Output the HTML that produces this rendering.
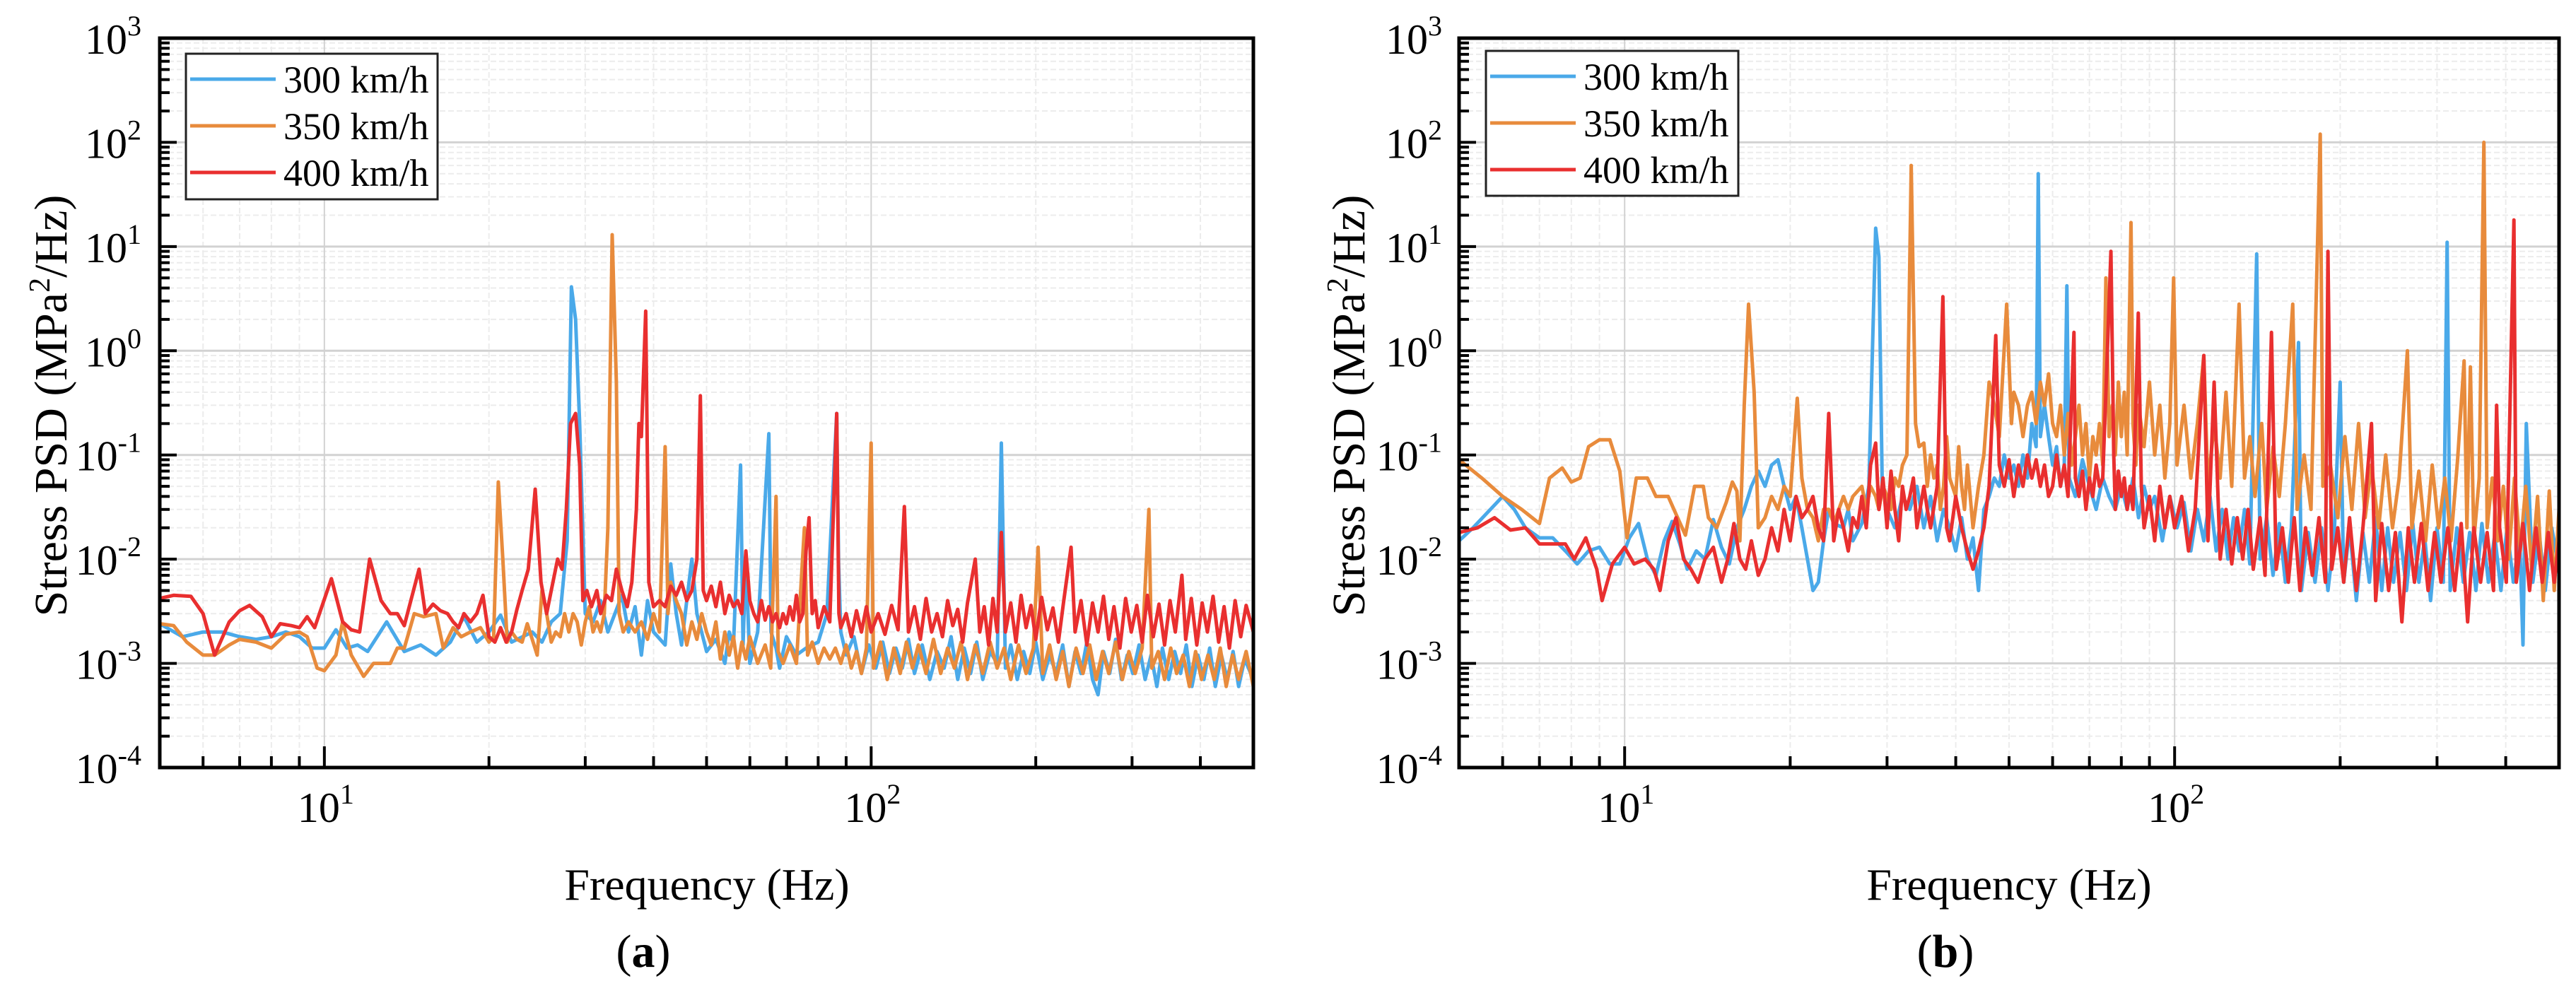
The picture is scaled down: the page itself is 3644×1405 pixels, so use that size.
<!DOCTYPE html>
<html><head><meta charset="utf-8"><style>
html,body{margin:0;padding:0;background:#fff;width:3644px;height:1405px;overflow:hidden}
svg text{font-family:"Liberation Serif",serif;fill:#000}
</style></head><body>
<svg id="fig" xmlns="http://www.w3.org/2000/svg" width="3644" height="1405" viewBox="0 0 3644 1405"></svg>
<script>
// ---- data: [frequency Hz, PSD MPa^2/Hz] ----
const a300 = [[5,2.4e-3],[5.5,1.8e-3],[6,2.0e-3],[6.5,2.0e-3],[7,1.8e-3],[7.5,1.7e-3],[8,1.8e-3],[8.5,2.0e-3],[9,1.8e-3],[9.5,1.4e-3],[10,1.4e-3],[10.5,2.1e-3],[11,1.4e-3],[11.5,1.5e-3],[12,1.3e-3],[13,2.5e-3],[14,1.3e-3],[15,1.5e-3],[16,1.2e-3],[17,1.6e-3],[18,2.8e-3],[19,1.6e-3],[20,2e-3],[21,2.9e-3],[22,1.6e-3],[24,2e-3],[25,1.6e-3],[26,2.5e-3],[27,3e-3],[27.8,1.5e-2],[28.3,4.1],[28.8,2.0],[29.3,0.2],[30,3e-3],[31,2.5e-3],[32,4e-3],[33,2e-3],[34,3e-3],[35,4.5e-3],[36,2e-3],[37,3.5e-3],[38,1.2e-3],[39,4e-3],[40,2e-3],[42,1.5e-3],[43,9e-3],[44,3e-3],[45,1.5e-3],[46,4e-3],[47,1e-2],[48,3e-3],[50,1.3e-3],[52,1.7e-3],[54,1e-3],[55,2e-3],[56,1.5e-3],[57.7,0.08],[58.3,1.5e-3],[59,1e-2],[60,1e-3],[62,2e-3],[65,0.16],[65.6,2e-3],[67,1.4e-3],[68,9e-4],[70,1.8e-3],[73,1.2e-3],[76,1.4e-3],[80,1.6e-3],[83,3e-3],[86.5,0.25],[87.2,9e-3],[88,2e-3],[90,1.2e-3],[93,1.8e-3],[96,8e-4],[99,1.5e-3],[102,9e-4],[105,1.6e-3],[108,8e-4],[111,1.4e-3],[114,9e-4],[117,1.7e-3],[120,8e-4],[124,1.5e-3],[128,7e-4],[132,1.3e-3],[136,9e-4],[140,1.8e-3],[144,7e-4],[148,1.4e-3],[152,8e-4],[156,1.6e-3],[160,7e-4],[165,1.3e-3],[170,1e-3],[173,0.13],[176,9e-4],[180,1.5e-3],[185,7e-4],[190,1.3e-3],[195,8e-4],[200,1.6e-3],[206,7e-4],[212,1.2e-3],[218,8e-4],[224,1.5e-3],[230,6e-4],[236,1.3e-3],[242,8e-4],[248,1.6e-3],[254,7e-4],[260,5e-4],[266,1.3e-3],[273,8e-4],[280,1.7e-3],[287,7e-4],[294,1.2e-3],[301,8e-4],[309,1.5e-3],[317,7e-4],[325,1.2e-3],[333,6e-4],[341,1.4e-3],[350,7e-4],[359,1.3e-3],[368,8e-4],[377,1.5e-3],[386,6e-4],[396,1.2e-3],[406,7e-4],[416,1.4e-3],[426,6e-4],[437,1.2e-3],[448,7e-4],[459,1.3e-3],[470,6e-4],[482,1.1e-3],[500,7e-4]];
const a350 = [[5,2.4e-3],[5.3,2.3e-3],[5.6,1.6e-3],[6,1.2e-3],[6.3,1.2e-3],[6.7,1.5e-3],[7,1.7e-3],[7.5,1.6e-3],[8,1.4e-3],[8.5,1.9e-3],[9,2e-3],[9.3,1.8e-3],[9.7,9e-4],[10,8.5e-4],[10.5,1.2e-3],[10.8,2.5e-3],[11.2,1.2e-3],[11.8,7.5e-4],[12.3,1e-3],[12.8,1e-3],[13.2,1e-3],[13.6,1.4e-3],[14,1.4e-3],[14.6,3e-3],[15.2,2.8e-3],[16,3e-3],[16.5,1.4e-3],[17.2,2.2e-3],[17.8,1.8e-3],[18.5,2e-3],[19.3,2.2e-3],[20,1.6e-3],[20.4,1.8e-3],[20.8,0.055],[21.2,1e-2],[21.6,1.6e-3],[22,2e-3],[22.5,1.7e-3],[23,1.6e-3],[23.5,2.4e-3],[24,1.7e-3],[24.5,1.2e-3],[25,5e-3],[25.5,3e-3],[26,1.6e-3],[26.5,2e-3],[27,1.8e-3],[27.5,3e-3],[28,2e-3],[28.5,3e-3],[29,2.5e-3],[29.5,1.5e-3],[30,2.5e-3],[30.5,3.5e-3],[31,2e-3],[31.5,2.5e-3],[32,2e-3],[32.5,3e-3],[33,0.02],[33.6,13],[34.2,0.5],[34.6,3e-3],[35.2,2e-3],[36,2.5e-3],[37,2e-3],[38,2.5e-3],[39,1.7e-3],[40,3e-3],[41,2e-3],[42,0.12],[42.5,3e-3],[43,6e-3],[44,4e-3],[45,3e-3],[46,1.5e-3],[47,2.5e-3],[48,1.7e-3],[49,3e-3],[50,2e-3],[51,1.5e-3],[52,2.5e-3],[53,1.1e-3],[54,2e-3],[55,1.2e-3],[56,1.8e-3],[57,9e-4],[58,1.6e-3],[59,1.1e-3],[60,1.8e-3],[62,1e-3],[64,1.5e-3],[65.5,9e-4],[67,0.04],[67.6,1.3e-3],[69,1e-3],[71,1.5e-3],[73,1e-3],[75.5,0.02],[76.5,1.2e-3],[78,1.6e-3],[80,1e-3],[82,1.4e-3],[84,1.1e-3],[86,1.4e-3],[88,1e-3],[90,1.5e-3],[92,9e-4],[94,1.3e-3],[96,8e-4],[98,1.4e-3],[100,0.13],[101,9e-4],[104,1.6e-3],[107,7e-4],[110,1.4e-3],[113,8e-4],[116,1.6e-3],[119,9e-4],[122,1.5e-3],[126,8e-4],[130,1.7e-3],[134,8e-4],[138,1.4e-3],[142,9e-4],[146,1.6e-3],[150,7e-4],[155,1.5e-3],[160,8e-4],[165,1.6e-3],[170,9e-4],[175,1.4e-3],[180,7e-4],[186,1.5e-3],[192,8e-4],[198,1.4e-3],[202,0.013],[206,8e-4],[212,1.5e-3],[218,7e-4],[224,1.3e-3],[230,6e-4],[237,1.4e-3],[244,8e-4],[251,1.5e-3],[258,7e-4],[265,1.3e-3],[272,8e-4],[280,1.6e-3],[288,7e-4],[296,1.3e-3],[304,8e-4],[313,1.4e-3],[322,0.03],[326,9e-4],[335,1.3e-3],[344,7e-4],[353,1.4e-3],[362,8e-4],[372,1.2e-3],[382,6e-4],[392,1.3e-3],[402,7e-4],[413,1.2e-3],[424,7e-4],[435,1.4e-3],[446,6e-4],[458,1.2e-3],[470,7e-4],[485,1.3e-3],[500,6e-4]];
const a400 = [[5,4.2e-3],[5.3,4.5e-3],[5.7,4.4e-3],[6.0,3e-3],[6.3,1.2e-3],[6.7,2.5e-3],[7.0,3.2e-3],[7.3,3.6e-3],[7.7,2.8e-3],[8.0,1.8e-3],[8.3,2.4e-3],[8.7,2.3e-3],[9.0,2.2e-3],[9.3,2.8e-3],[9.6,2.2e-3],[10.3,6.5e-3],[10.8,2.5e-3],[11.2,2.1e-3],[11.6,2.0e-3],[12.1,1e-2],[12.7,4e-3],[13.2,3e-3],[13.6,3e-3],[14.0,2.3e-3],[14.9,8e-3],[15.3,3e-3],[15.8,3.7e-3],[16.3,3.2e-3],[16.8,3.0e-3],[17.2,2.5e-3],[17.6,2.2e-3],[18,3e-3],[18.5,2.5e-3],[19,3e-3],[19.5,4.5e-3],[20,1.8e-3],[20.5,1.6e-3],[21,2.2e-3],[21.5,1.6e-3],[22,2e-3],[22.5,3.3e-3],[23,5e-3],[23.6,8e-3],[24.3,4.7e-2],[24.9,6e-3],[25.5,3e-3],[26,5e-3],[26.7,1e-2],[27.2,8e-3],[27.7,3e-2],[28.2,0.2],[28.8,0.25],[29.3,0.08],[29.7,4e-3],[30.2,5e-3],[30.8,3.5e-3],[31.5,5e-3],[32,3e-3],[32.8,4.5e-3],[33.5,4e-3],[34.2,8e-3],[35,5e-3],[35.8,3.5e-3],[36.5,6e-3],[37.2,0.03],[37.6,0.2],[38,0.15],[38.7,2.4],[39.2,6e-3],[40,3.5e-3],[41,4e-3],[42,3.5e-3],[43,5.5e-3],[44,4.5e-3],[45,6e-3],[46,4e-3],[47,5e-3],[48,1e-2],[48.7,0.37],[49.3,5e-3],[50,4e-3],[51,5.5e-3],[52,3.5e-3],[53,6e-3],[54,3e-3],[55,4.5e-3],[56,3.5e-3],[57,4e-3],[58,3e-3],[59,1.2e-2],[60,4e-3],[61,3e-3],[62,2.5e-3],[63,4e-3],[64,2.6e-3],[65,3.5e-3],[66,2.5e-3],[67,3e-3],[68,2.2e-3],[69,3e-3],[70,2.4e-3],[71,3.5e-3],[72,2.6e-3],[73,4.5e-3],[74,2.5e-3],[75,3e-3],[76,0.012],[77,0.025],[78,3e-3],[79,4e-3],[80,2.2e-3],[82,3.5e-3],[84,2.5e-3],[86.5,0.25],[87.3,3e-3],[88,2.2e-3],[90,3e-3],[92,1.8e-3],[94,3.2e-3],[96,2e-3],[98,3.5e-3],[100,2e-3],[103,3e-3],[106,1.9e-3],[109,3.6e-3],[112,2.1e-3],[115,0.032],[117,2e-3],[120,3.5e-3],[123,1.7e-3],[126,4.2e-3],[129,2e-3],[132,3e-3],[135,1.8e-3],[138,4e-3],[141,2.3e-3],[144,3.3e-3],[147,1.6e-3],[150,3.8e-3],[155,0.01],[158,2e-3],[161,3.5e-3],[164,1.5e-3],[167,4.2e-3],[170,2e-3],[173,0.018],[176,2e-3],[180,3.8e-3],[184,1.6e-3],[188,4.5e-3],[192,2.2e-3],[196,3.6e-3],[200,1.7e-3],[205,4.3e-3],[210,2.1e-3],[215,3.4e-3],[220,1.6e-3],[225,4e-3],[232,0.013],[236,2e-3],[242,4e-3],[248,1.5e-3],[254,3.8e-3],[260,2e-3],[266,4.4e-3],[272,1.7e-3],[278,3.5e-3],[285,1.4e-3],[292,4.2e-3],[299,2e-3],[306,3.6e-3],[313,1.6e-3],[320,4.5e-3],[328,1.8e-3],[336,3.7e-3],[344,1.5e-3],[352,4e-3],[360,2e-3],[370,7e-3],[376,1.7e-3],[385,4.2e-3],[394,1.5e-3],[403,3.8e-3],[412,2e-3],[422,4.4e-3],[432,1.6e-3],[442,3.5e-3],[452,1.4e-3],[463,4e-3],[474,1.8e-3],[485,3.6e-3],[500,2e-3]];
const b300 = [[5,0.015],[5.3,0.02],[5.7,0.03],[6,0.04],[6.3,0.03],[6.6,0.02],[7,0.016],[7.4,0.016],[7.8,0.012],[8.2,0.009],[8.6,0.012],[9,0.013],[9.4,0.009],[9.8,0.009],[10.2,0.016],[10.6,0.022],[11,0.01],[11.4,0.007],[11.8,0.015],[12.2,0.023],[12.6,0.014],[13,0.008],[13.5,0.012],[14,0.01],[14.5,0.024],[15,0.013],[15.5,0.009],[16,0.02],[16.5,0.03],[17,0.05],[17.5,0.07],[18,0.05],[18.5,0.08],[19,0.09],[19.5,0.05],[20,0.03],[20.5,0.04],[21,0.02],[21.5,0.01],[22,0.005],[22.5,0.006],[23,0.015],[23.5,0.03],[24,0.022],[25,0.02],[25.5,0.03],[26,0.015],[27,0.022],[27.8,0.05],[28.6,15],[29,8],[29.4,0.05],[30,0.03],[31,0.02],[32,0.04],[33,0.03],[34,0.05],[35,0.02],[36,0.04],[37,0.015],[38,0.03],[39,0.02],[40,0.012],[41,0.025],[42,0.01],[43,0.016],[44,0.005],[45,0.03],[46,0.04],[47,0.06],[48,0.05],[49,0.1],[50,0.06],[51,0.08],[52,0.05],[53,0.1],[54,0.06],[55,0.2],[56,0.12],[56.5,50],[57,0.15],[58,0.3],[59,0.15],[60,0.08],[61,0.12],[62,0.05],[63,0.08],[63.7,4.2],[64.3,0.06],[66,0.04],[68,0.09],[70,0.05],[72,0.03],[74,0.06],[76,0.04],[78,0.03],[80,0.05],[82,0.03],[84,0.06],[86,0.025],[88,0.05],[90,0.03],[92,0.04],[95,0.015],[98,0.04],[101,0.02],[104,0.035],[107,0.012],[110,0.03],[113,0.015],[116,0.04],[119,0.012],[122,0.03],[125,0.01],[128,0.025],[131,0.012],[134,0.03],[137,0.009],[141,8.5],[143,0.01],[147,0.025],[151,0.007],[155,0.022],[159,0.006],[163,0.02],[168,1.2],[170,0.005],[175,0.018],[180,0.006],[185,0.02],[190,0.005],[195,0.016],[200,0.5],[203,0.006],[208,0.02],[214,0.004],[220,0.018],[226,0.006],[232,0.025],[238,0.005],[244,0.02],[250,0.006],[257,0.018],[264,0.005],[271,0.022],[278,0.006],[285,0.016],[292,0.004],[300,0.02],[308,0.006],[313,11],[317,0.005],[326,0.02],[335,0.006],[344,0.018],[353,0.005],[362,0.022],[372,0.006],[382,0.017],[392,0.005],[402,0.02],[413,0.006],[424,0.016],[430,0.0015],[436,0.2],[448,0.006],[460,0.018],[472,0.005],[485,0.02],[500,0.008]];
const b350 = [[5,0.09],[5.5,0.06],[6,0.04],[6.5,0.03],[7,0.022],[7.3,0.06],[7.7,0.075],[8,0.055],[8.3,0.06],[8.6,0.12],[9,0.14],[9.4,0.14],[9.8,0.07],[10.1,0.016],[10.5,0.06],[11,0.06],[11.4,0.04],[12,0.04],[12.4,0.027],[12.9,0.017],[13.4,0.05],[13.9,0.05],[14.2,0.025],[14.7,0.02],[15.3,0.035],[15.7,0.055],[16,0.045],[16.2,0.015],[16.5,0.3],[16.8,2.8],[17.2,0.4],[17.5,0.02],[18,0.025],[18.5,0.04],[19,0.03],[19.5,0.05],[20,0.04],[20.6,0.35],[21,0.06],[21.5,0.03],[22,0.025],[22.5,0.015],[23,0.03],[23.5,0.03],[24,0.022],[25,0.04],[25.5,0.03],[26,0.04],[27,0.05],[27.5,0.03],[28,0.05],[28.6,0.04],[29,0.03],[29.5,0.05],[30,0.04],[30.5,0.03],[31,0.06],[31.5,0.05],[32,0.08],[32.6,0.1],[33.2,60],[33.8,0.2],[34.3,0.12],[35,0.13],[35.5,0.05],[36,0.1],[36.5,0.06],[37,0.08],[37.5,0.03],[38,0.05],[38.5,0.15],[39,0.06],[40,0.04],[40.5,0.12],[41,0.05],[41.5,0.03],[42,0.08],[43,0.02],[44,0.05],[45,0.1],[46,0.5],[47,0.3],[48,0.15],[49.5,2.8],[50.5,0.2],[51,0.4],[52,0.3],[53,0.15],[54,0.3],[55,0.4],[56,0.2],[57,0.5],[58,0.3],[59,0.6],[60,0.2],[61,0.15],[62,0.3],[63,0.1],[64,0.25],[65,0.08],[66,0.15],[67,0.3],[68,0.1],[69,0.2],[70,0.06],[71,0.15],[72,0.1],[73,0.2],[74,0.08],[75,5],[76,0.15],[77,0.3],[78,0.1],[79,0.5],[80,0.15],[81,0.4],[82,0.1],[83.3,17],[84,0.2],[85,0.08],[86,0.3],[88,0.12],[90,0.5],[92,0.1],[94,0.3],[96,0.06],[98,0.2],[99.6,5],[101,0.08],[104,0.3],[107,0.06],[110,0.2],[113,0.9],[115,0.05],[118,0.2],[121,0.06],[124,0.4],[127,0.05],[131,2.8],[134,0.06],[137,0.15],[140,0.04],[144,0.2],[147,0.03],[151,0.12],[155,0.04],[159,0.2],[164,2.8],[167,0.03],[172,0.1],[177,0.03],[184,120],[186,0.05],[192,0.08],[198,0.025],[204,0.15],[210,0.03],[216,0.2],[222,0.025],[228,0.08],[235,0.02],[242,0.1],[249,0.02],[256,0.06],[265,1],[270,0.02],[278,0.07],[286,0.015],[294,0.08],[302,0.02],[310,0.06],[318,0.015],[327,0.09],[336,0.8],[340,0.02],[345,0.7],[350,0.015],[358,0.06],[365,100],[370,0.02],[378,0.06],[387,0.015],[396,0.05],[405,0.01],[415,0.06],[425,0.012],[435,0.05],[446,0.008],[457,0.04],[468,0.004],[480,0.045],[490,0.005],[500,0.03]];
const b400 = [[5,0.018],[5.4,0.02],[5.8,0.025],[6.2,0.019],[6.6,0.02],[7,0.014],[7.4,0.014],[7.8,0.014],[8.1,0.01],[8.5,0.016],[8.9,0.008],[9.1,0.004],[9.5,0.009],[10,0.013],[10.4,0.009],[10.9,0.01],[11.3,0.008],[11.6,0.005],[12,0.015],[12.4,0.025],[12.8,0.01],[13.2,0.008],[13.6,0.006],[14,0.01],[14.5,0.013],[15,0.006],[15.4,0.01],[15.8,0.022],[16.2,0.01],[16.6,0.008],[17,0.015],[17.5,0.007],[18,0.01],[18.5,0.02],[19,0.012],[19.5,0.03],[20,0.015],[20.5,0.04],[21,0.025],[21.5,0.03],[22,0.04],[22.5,0.02],[23,0.015],[23.5,0.25],[24,0.015],[24.5,0.03],[25,0.02],[25.5,0.012],[26,0.025],[26.5,0.02],[27,0.04],[27.5,0.02],[28,0.08],[28.6,0.13],[29,0.03],[29.5,0.06],[30,0.02],[30.5,0.07],[31,0.03],[31.5,0.015],[32,0.05],[32.5,0.03],[33,0.04],[33.5,0.06],[34,0.02],[35,0.05],[35.5,0.03],[36,0.02],[37,0.05],[37.9,3.3],[38.5,0.02],[39,0.015],[40,0.04],[41,0.02],[42,0.012],[43,0.008],[44,0.012],[45,0.02],[46,0.05],[47.3,1.4],[48,0.08],[49,0.05],[50,0.09],[51,0.04],[52,0.08],[53,0.05],[54,0.1],[55,0.06],[56,0.09],[57,0.05],[58,0.08],[59,0.04],[60,0.05],[61,0.1],[62,0.05],[63,0.08],[64,0.04],[65.6,1.5],[66,0.06],[67,0.04],[68,0.07],[69,0.03],[70,0.06],[71,0.04],[72,0.08],[73,0.05],[74,0.06],[75,0.4],[76.6,9],[77.5,0.1],[78,0.03],[79,0.07],[80,0.04],[81,0.06],[82,0.03],[83,0.05],[84,0.03],[85.9,2.3],[87,0.05],[88,0.02],[90,0.04],[92,0.015],[94,0.05],[96,0.02],[98,0.04],[100,0.02],[103,0.04],[106,0.012],[109,0.03],[113,0.9],[115,0.015],[118,0.5],[121,0.01],[124,0.03],[127,0.009],[130,0.025],[133,0.01],[136,0.03],[139,0.008],[143,0.025],[146,0.007],[150,1.5],[153,0.008],[157,0.02],[161,0.006],[165,0.025],[169,0.005],[173,0.02],[178,0.007],[183,0.025],[188,0.006],[190,9],[193,0.008],[198,0.02],[203,0.006],[208,0.025],[214,0.005],[220,0.02],[228,0.2],[232,0.004],[238,0.022],[245,0.005],[252,0.018],[259,0.0025],[266,0.02],[273,0.006],[281,0.022],[289,0.005],[297,0.018],[305,0.006],[314,0.02],[323,0.005],[332,0.022],[341,0.0025],[350,0.02],[360,0.006],[370,0.018],[380,0.005],[385,0.3],[390,0.02],[401,0.006],[414,18],[418,0.006],[430,0.022],[442,0.005],[454,0.02],[466,0.006],[478,0.018],[490,0.006],[500,0.015]];
const seriesLabels = ["300 km/h","350 km/h","400 km/h"];
const yTickExp = [3,2,1,0,-1,-2,-3,-4];
const xTickExp = [1,2];

const colors = ["#4aa9e9","#e88b3c","#e92f2f"];
const NS = "http://www.w3.org/2000/svg";
const svg = document.getElementById("fig");
function mk(tag, attrs, parent){const e=document.createElementNS(NS,tag);for(const k in attrs)e.setAttribute(k,attrs[k]);(parent||svg).appendChild(e);return e;}

function panel(cfg){
  const {x0,x1,y0,y1,id,data,lg,ytx,xtitle,letter} = cfg;
  const lxMin=Math.log10(5), lxMax=Math.log10(500), lyMin=-4, lyMax=3;
  const X = f => x0 + (Math.log10(f)-lxMin)/(lxMax-lxMin)*(x1-x0);
  const Y = v => y1 - (Math.log10(v)-lyMin)/(lyMax-lyMin)*(y1-y0);
  const g = mk("g",{});
  
  
  const grid = mk("g",{},g);
  
  
  for(let e=-4;e<3;e++){for(let m=2;m<10;m++){const y=Y(m*Math.pow(10,e));mk("line",{x1:x0,x2:x1,y1:y,y2:y,stroke:"#ececec","stroke-width":2,"stroke-dasharray":"8 4"},grid);}}
  for(let e=0;e<3;e++){for(let m=1;m<10;m++){const f=m*Math.pow(10,e);if(f<=5||f>=500||m===1)continue;const x=X(f);mk("line",{x1:x,x2:x,y1:y0,y2:y1,stroke:"#ececec","stroke-width":2,"stroke-dasharray":"8 4"},grid);}}
  yTickExp.forEach(e=>{const y=Y(Math.pow(10,e));mk("line",{x1:x0,x2:x1,y1:y,y2:y,stroke:"#d2d2d2","stroke-width":3},grid);});
  xTickExp.forEach(e=>{const x=X(Math.pow(10,e));mk("line",{x1:x,x2:x,y1:y0,y2:y1,stroke:"#d2d2d2","stroke-width":2},grid);});
  data.forEach((s,i)=>{
    const d = s.map((p,j)=>(j?"L":"M")+X(p[0]).toFixed(1)+","+Y(p[1]).toFixed(1)).join("");
    const p = mk("path",{d,fill:"none",stroke:colors[i],"stroke-width":5,"stroke-linejoin":"round"},g);
    
    
  });
  const tk = mk("g",{stroke:"#000","stroke-width":4},g);
  
  
  for(let e=-4;e<3;e++){for(let m=2;m<10;m++){const y=Y(m*Math.pow(10,e));mk("line",{x1:x0,x2:x0+14,y1:y,y2:y},tk);}}
  yTickExp.forEach(e=>{const y=Y(Math.pow(10,e));mk("line",{x1:x0,x2:x0+24,y1:y,y2:y},tk);});
  for(let e=0;e<3;e++){for(let m=1;m<10;m++){const f=m*Math.pow(10,e);if(f<=5||f>=500)continue;const x=X(f);mk("line",{x1:x,x2:x,y1:y1,y2:y1-(m===1?30:16)},tk);}}
  const fr = mk("rect",{x:x0,y:y0,width:x1-x0,height:y1-y0,fill:"none",stroke:"#000","stroke-width":5},g);
  
  
  yTickExp.forEach(e=>{
    const t = mk("text",{x:ytx,y:Y(Math.pow(10,e))+22,"text-anchor":"end","font-size":60},g);
    
    
    const a=mk("tspan",{},t);a.textContent="10";
    const b=mk("tspan",{dy:-26,"font-size":40},t);b.textContent=(e<0?"-":"")+Math.abs(e);
  });
  xTickExp.forEach(e=>{
    const t = mk("text",{x:X(Math.pow(10,e))-38,y:1163,"font-size":60},g);
    
    
    const a=mk("tspan",{},t);a.textContent="10";
    const b=mk("tspan",{dy:-26,"font-size":40},t);b.textContent=String(e);
  });
  const xt = mk("text",{x:xtitle,y:1273,"text-anchor":"middle","font-size":64},g);
  xt.textContent="Frequency (Hz)";
  
  
  const yt = mk("text",{x:0,y:0,"text-anchor":"middle","font-size":66,transform:`translate(${cfg.ytitle+22},574) rotate(-90)`},g);
  
  
  const y1s=mk("tspan",{},yt);y1s.textContent="Stress PSD (MPa";
  const y2s=mk("tspan",{dy:-24,"font-size":42},yt);y2s.textContent="2";
  const y3s=mk("tspan",{dy:24},yt);y3s.textContent="/Hz)";
  const lt = mk("text",{x:xtitle-90,y:1368,"text-anchor":"middle","font-size":66},g);
  
  
  const l1=mk("tspan",{},lt);l1.textContent="(";
  const l2=mk("tspan",{"font-weight":"bold"},lt);l2.textContent=letter;
  const l3=mk("tspan",{},lt);l3.textContent=")";
  const lgG = mk("g",{},g);
  
  
  mk("rect",{x:lg.x,y:lg.y,width:lg.w,height:lg.h,fill:"#fff",stroke:"#222","stroke-width":3},lgG);
  seriesLabels.forEach((s,i)=>{
    const cy = lg.y+36+i*66;
    const e = mk("g",{},lgG);
    
    
    mk("line",{x1:lg.x+6,x2:lg.x+127,y1:cy,y2:cy,stroke:colors[i],"stroke-width":5},e);
    const t=mk("text",{x:lg.x+138,y:cy+19,"font-size":54},e);t.textContent=s;
  });
}
panel({id:"panel-a",x0:226,x1:1773,y0:54,y1:1086,data:[a300,a350,a400],lg:{x:263,y:76,w:356,h:206},ytx:200,ytitle:72,xtitle:1000,letter:"a"});
panel({id:"panel-b",x0:2064,x1:3620,y0:54,y1:1086,data:[b300,b350,b400],lg:{x:2102,y:72,w:357,h:205},ytx:2040,ytitle:1908,xtitle:2842,letter:"b"});
</script>
</body></html>
